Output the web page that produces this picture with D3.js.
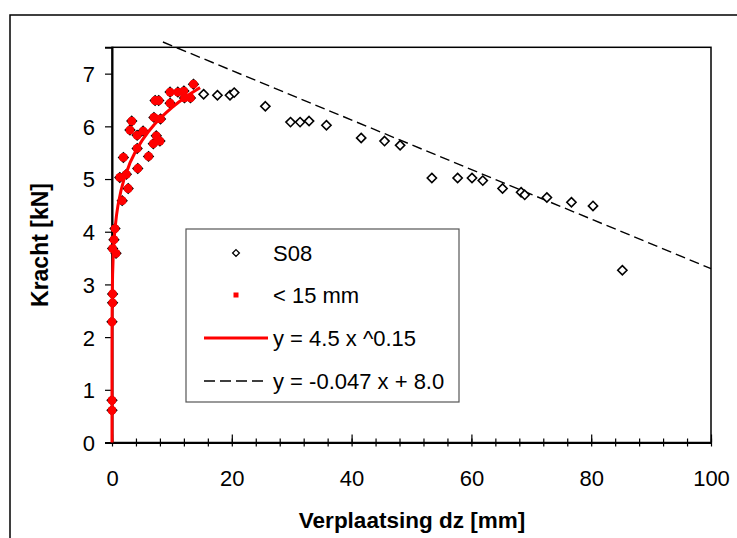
<!DOCTYPE html>
<html>
<head>
<meta charset="utf-8">
<script src="https://cdn.jsdelivr.net/npm/d3@7"></script>
<style>
  html, body { margin: 0; padding: 0; background: #fff; }
  svg { display: block; font-family: "Liberation Sans", Arial, sans-serif; }
</style>
</head>
<body>
<svg id="chart" width="737" height="538"></svg>
<script>
// ---- data ----
const dz = [0.0, 0.0, 0.0, 0.1, 0.1, 0.67, 0.1, 0.33, 0.5, 1.7, 2.7, 1.3, 2.4, 4.3, 1.9, 6.1, 4.2,
            6.9, 8.0, 7.4, 4.2, 5.2, 3.0, 3.3, 7.0, 8.1, 7.2, 7.8, 9.7, 9.7, 11.0, 12.0, 12.1, 13.1, 13.6,
            15.3, 17.6, 19.7, 20.4, 25.6, 29.8, 31.4, 32.9, 35.8, 41.6, 45.5, 48.1, 53.4, 57.7, 60.1,
            61.9, 65.2, 68.3, 68.9, 72.6, 76.7, 80.3, 85.2];
const kracht = [0.61, 0.80, 2.29, 2.65, 2.82, 3.59, 3.68, 3.85, 4.06, 4.59, 4.82, 5.03, 5.09, 5.20, 5.41, 5.43, 5.58,
            5.67, 5.72, 5.82, 5.83, 5.91, 5.93, 6.10, 6.17, 6.14, 6.49, 6.49, 6.44, 6.65, 6.65, 6.67, 6.54, 6.54, 6.80,
            6.61, 6.59, 6.59, 6.64, 6.38, 6.08, 6.08, 6.10, 6.02, 5.78, 5.72, 5.64, 5.02, 5.02, 5.02,
            4.97, 4.82, 4.75, 4.70, 4.65, 4.56, 4.49, 3.27];
const limitSmall = 15;              // "< 15 mm" subset
const powA = 4.5, powB = 0.15;      // y = 4.5 x ^0.15
const powXEnd = 14.7;
const linA = -0.047, linB = 8.0;    // y = -0.047 x + 8.0
const linXStart = 8.5, linXEnd = 100;
const xTicks = [0, 20, 40, 60, 80, 100];
const xMinorTicks = [0,4,8,12,16,20,24,28,32,36,40,44,48,52,56,60,64,68,72,76,80,84,88,92,96,100];
const yTicks = [0, 1, 2, 3, 4, 5, 6, 7];
const legendLabels = ["S08", "< 15 mm", "y = 4.5 x ^0.15", "y = -0.047 x + 8.0"];
const xTitle = "Verplaatsing dz [mm]";
const yTitle = "Kracht [kN]";

// ---- layout ----
const svg = d3.select("#chart");
const FS = 22;
const x = d3.scaleLinear().domain([0, 100]).range([112, 711]);
const y = d3.scaleLinear().domain([0, 7.5]).range([442.5, 47.3]);

svg.append("rect").attr("x", 0).attr("y", 0).attr("width", 737).attr("height", 538).attr("fill", "#fff");
// outer chart border
svg.append("rect").attr("x", 10).attr("y", 15).attr("width", 800).attr("height", 600)
  .attr("fill", "none").attr("stroke", "#000").attr("stroke-width", 1.5);

// plot area border
svg.append("rect").attr("x", x(0)).attr("y", y(7.5))
  .attr("width", x(100) - x(0)).attr("height", y(0) - y(7.5))
  .attr("fill", "none").attr("stroke", "#000").attr("stroke-width", 1.5);

// x axis: minor ticks crossing, major ticks longer upward
const gx = svg.append("g").attr("transform", `translate(0,${y(0)})`);
gx.append("g").call(d3.axisBottom(x).tickValues(xMinorTicks).tickSize(4).tickFormat(""))
  .call(g => g.select(".domain").remove());
gx.append("g").call(d3.axisTop(x).tickValues(xMinorTicks).tickSize(4).tickFormat(""))
  .call(g => g.select(".domain").remove());
gx.append("g").call(d3.axisTop(x).tickValues(xTicks).tickSize(8).tickFormat(""))
  .call(g => g.select(".domain").remove());
gx.append("g").call(d3.axisBottom(x).tickValues(xTicks).tickSize(0).tickFormat(d3.format("d")))
  .call(g => g.select(".domain").attr("stroke-width", 2))
  .call(g => g.selectAll("text").attr("font-size", FS).attr("fill", "#000")
    .attr("font-family", "Liberation Sans, Arial, sans-serif").attr("y", 43.5).attr("dy", 0));
gx.selectAll("line").attr("stroke", "#000").attr("stroke-width", 1.2);

// y axis
const gy = svg.append("g").attr("transform", `translate(${x(0)},0)`);
gy.call(d3.axisLeft(y).tickValues(yTicks).tickSize(7).tickPadding(10).tickFormat(d3.format("d")))
  .call(g => g.select(".domain").attr("stroke-width", 2))
  .call(g => g.selectAll("text").attr("font-size", FS).attr("fill", "#000")
    .attr("font-family", "Liberation Sans, Arial, sans-serif").attr("dy", "0.36em"));
gy.selectAll("line").attr("stroke", "#000").attr("stroke-width", 1.2);

// axis titles
svg.append("text").attr("x", 412).attr("y", 528).attr("text-anchor", "middle")
  .attr("font-size", 22.5).attr("font-weight", "bold").text(xTitle);
svg.append("text").attr("transform", `translate(48,245) rotate(-90)`).attr("text-anchor", "middle")
  .attr("font-size", 23).attr("font-weight", "bold").text(yTitle);

// trend line (dashed)
const linData = [linXStart, linXEnd].map(v => ({ x: v, y: linA * v + linB }));
svg.append("path").datum(linData)
  .attr("d", d3.line().x(d => x(d.x)).y(d => y(d.y)))
  .attr("fill", "none").attr("stroke", "#000").attr("stroke-width", 1.4).attr("stroke-dasharray", "10,5");

// points
const pts = dz.map((v, i) => ({ x: v, y: kracht[i] }));
const diamond = "M0,-4.6L4.6,0L0,4.6L-4.6,0Z";
svg.append("g").selectAll("path").data(pts).join("path")
  .attr("d", diamond).attr("transform", d => `translate(${x(d.x)},${y(d.y)})`)
  .attr("fill", "#fff").attr("stroke", "#000").attr("stroke-width", 1.6);

// power curve
const powSamples = [0, 0.00001, 0.0001, 0.001, 0.005, 0.01, 0.03, 0.06, 0.1, 0.2, 0.35, 0.5, 0.75, 1, 1.5, 2, 3, 4, 5, 6, 7, 8, 9, 10, 11, 12, 13, 14, powXEnd];
svg.append("path").datum(powSamples.map(v => ({ x: v, y: powA * Math.pow(v, powB) })))
  .attr("d", d3.line().x(d => x(d.x)).y(d => y(d.y)))
  .attr("fill", "none").attr("stroke", "#ff0000").attr("stroke-width", 3);

svg.append("g").selectAll("circle").data(pts.filter(d => d.x < limitSmall)).join("circle")
  .attr("cx", d => x(d.x)).attr("cy", d => y(d.y)).attr("r", 4.4).attr("fill", "#ff0000");

// legend
const lg = svg.append("g");
lg.append("rect").attr("x", 186).attr("y", 229).attr("width", 273).attr("height", 173)
  .attr("fill", "#fff").attr("stroke", "#555").attr("stroke-width", 1.2);
const rows = [253, 295, 338, 381];
lg.append("path").attr("d", "M0,-3.4L3.4,0L0,3.4L-3.4,0Z").attr("transform", `translate(236,${rows[0]})`)
  .attr("fill", "#fff").attr("stroke", "#000").attr("stroke-width", 1.3);
lg.append("rect").attr("x", 233.5).attr("y", rows[1] - 2.5).attr("width", 5).attr("height", 5).attr("fill", "#ff0000");
lg.append("line").attr("x1", 204).attr("x2", 268).attr("y1", rows[2]).attr("y2", rows[2])
  .attr("stroke", "#ff0000").attr("stroke-width", 3);
lg.append("line").attr("x1", 204).attr("x2", 268).attr("y1", rows[3]).attr("y2", rows[3])
  .attr("stroke", "#000").attr("stroke-width", 1.4).attr("stroke-dasharray", "11,5");
lg.selectAll("text.lab").data(legendLabels).join("text").attr("class", "lab")
  .attr("x", 273).attr("y", (d, i) => rows[i]).attr("dy", "0.36em")
  .attr("font-size", FS).attr("fill", "#000").text(d => d);
</script>
</body>
</html>
